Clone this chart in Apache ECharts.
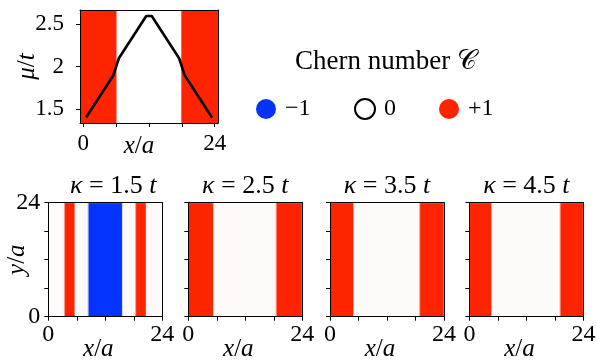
<!DOCTYPE html>
<html>
<head>
<meta charset="utf-8">
<script src="https://cdn.jsdelivr.net/npm/echarts@6/dist/echarts.min.js"></script>
<style>html,body{margin:0;padding:0;background:#fff}#c{width:597px;height:360px}</style>
</head>
<body>
<div id="c"></div>
<script>
// ---------- data ----------
const muX = [0.5, 5.5, 6.5, 11.5, 12.5, 17.5, 18.5, 23.5];
const muY = [1.4, 1.9, 2.1, 2.6, 2.6, 2.1, 1.9, 1.4];
const topEdges = [-0.6, 6.1, 17.9, 24.6];
const topChern = [1, 0, 1];
const topXRange = [-0.6, 24.6];
const topYRange = [1.335, 2.67];
const topXTicks = [0, 6, 12, 18, 24];
const topXLabels = [0, 24];
const topYTicks = [1.5, 2, 2.5];

const kappaLabels = ['1.5', '2.5', '3.5', '4.5'];
const panel1Edges = [0, 3.4, 5.6, 8.4, 15.6, 18.4, 20.6, 24];
const panel1Chern = [0, 1, 0, -1, 0, 1, 0];
const panel2Edges = [0, 5.3, 18.5, 24];
const panel2Chern = [1, 0, 1];
const panel3Edges = [0, 5.0, 18.9, 24];
const panel3Chern = [1, 0, 1];
const panel4Edges = [0, 4.7, 19.1, 24];
const panel4Chern = [1, 0, 1];
const panelRange = [0, 24];
const panelTicks = [0, 6, 12, 18, 24];
const panelLabels = [0, 24];
const legendNames = ['\u22121', '0', '+1'];
const legendValues = [-1, 0, 1];

// ---------- styles ----------
const FONT = "'Liberation Serif', 'DejaVu Serif', serif";
const RED = '#ff2400', BLUE = '#0433ff';
const colorTop = {'-1': BLUE, '0': '#ffffff', '1': RED};
const colorBot = {'-1': BLUE, '0': '#fffafa', '1': RED};
const strokeBot = {'-1': '#9aa8ff', '0': null, '1': '#ff9a88'};

const topGrid = {left: 80, top: 10, width: 138, height: 113};
const panelLefts = [48.3, 188.3, 330, 469.4];
const panelTop = 202.7, panelSize = 114;
const titleOffsets = [8, 0, 0, 0];

const panelEdges = [panel1Edges, panel2Edges, panel3Edges, panel4Edges];
const panelChern = [panel1Chern, panel2Chern, panel3Chern, panel4Chern];

function bands(edges, chern) {
  const d = [];
  for (let i = 0; i < chern.length; i++) d.push([edges[i], edges[i + 1], chern[i]]);
  return d;
}

function bandRender(colors, strokes) {
  return function (params, api) {
    const cs = params.coordSys;
    let x0 = api.coord([api.value(0), 0])[0];
    let x1 = api.coord([api.value(1), 0])[0];
    x0 = Math.max(x0, cs.x); x1 = Math.min(x1, cs.x + cs.width);
    const c = String(api.value(2));
    const st = strokes && strokes[c];
    return {
      type: 'rect',
      shape: {x: x0, y: cs.y, width: x1 - x0, height: cs.height},
      style: {fill: colors[c], stroke: st || null, lineWidth: st ? 1 : 0}
    };
  };
}

const blackLine = {show: true, onZero: false, lineStyle: {color: '#000', width: 1}};
const tick = {show: true, inside: false, length: 4, lineStyle: {color: '#000', width: 1}};
const rich = (size) => ({i: {fontStyle: 'italic', fontFamily: FONT, fontSize: size, color: '#000'},
                         n: {fontFamily: FONT, fontSize: size, color: '#000'}});

const grids = [Object.assign({outerBoundsMode: 'none', containLabel: false}, topGrid)];
panelLefts.forEach(l => grids.push({left: l, top: panelTop, width: panelSize, height: panelSize,
  outerBoundsMode: 'none', containLabel: false}));

const xAxes = [], yAxes = [];
// top plot main axes
xAxes.push({gridIndex: 0, type: 'value', min: topXRange[0], max: topXRange[1], z: 10,
  axisLine: blackLine, axisTick: Object.assign({}, tick, {customValues: topXTicks}),
  axisLabel: {customValues: topXLabels, margin: 9, fontSize: 23, fontFamily: FONT, color: '#000'},
  splitLine: {show: false},
  name: '{i|x}{n|/}{i|a}', nameLocation: 'middle', nameGap: 23, nameMoveOverlap: false,
  nameTextStyle: {rich: rich(25), padding: [0, 20, 0, 0], verticalAlign: 'middle'}});
yAxes.push({gridIndex: 0, type: 'value', min: topYRange[0], max: topYRange[1], z: 10,
  axisLine: blackLine, axisTick: Object.assign({}, tick, {customValues: topYTicks}),
  axisLabel: {customValues: topYTicks, margin: 16, fontSize: 23, fontFamily: FONT, color: '#000'},
  splitLine: {show: false},
  name: '{i|\u03bc}{n|/}{i|t}', nameLocation: 'middle', nameGap: 53, nameMoveOverlap: false,
  nameTextStyle: {rich: rich(25), verticalAlign: 'middle'}});
// bottom panels main axes
for (let k = 0; k < 4; k++) {
  xAxes.push({gridIndex: k + 1, type: 'value', min: panelRange[0], max: panelRange[1], z: 10,
    axisLine: blackLine, axisTick: Object.assign({}, tick, {customValues: panelTicks}),
    axisLabel: {customValues: panelLabels, margin: 6, fontSize: 24, fontFamily: FONT, color: '#000'},
    splitLine: {show: false},
    name: '{i|x}{n|/}{i|a}', nameLocation: 'middle', nameGap: 33, nameMoveOverlap: false,
    nameTextStyle: {rich: rich(25), padding: [0, 14, 0, 0], verticalAlign: 'middle'}});
  yAxes.push({gridIndex: k + 1, type: 'value', min: panelRange[0], max: panelRange[1], z: 10,
    axisLine: blackLine, axisTick: Object.assign({}, tick, {customValues: panelTicks}),
    axisLabel: {show: k === 0, customValues: panelLabels, margin: 8, fontSize: 24, fontFamily: FONT, color: '#000'},
    splitLine: {show: false},
    name: k === 0 ? '{i|y}{n|/}{i|a}' : '', nameLocation: 'middle', nameGap: 31, nameMoveOverlap: false,
    nameTextStyle: {rich: rich(25), verticalAlign: 'middle'}});
}
// frame axes (top & right)
for (let g = 0; g < 5; g++) {
  const xr = g === 0 ? topXRange : panelRange, yr = g === 0 ? topYRange : panelRange;
  xAxes.push({gridIndex: g, type: 'value', position: 'top', min: xr[0], max: xr[1], z: 10,
    axisLine: blackLine, axisTick: {show: false}, axisLabel: {show: false}, splitLine: {show: false}});
  yAxes.push({gridIndex: g, type: 'value', position: 'right', min: yr[0], max: yr[1], z: 10,
    axisLine: blackLine, axisTick: {show: false}, axisLabel: {show: false}, splitLine: {show: false}});
}

const series = [];
series.push({type: 'custom', xAxisIndex: 0, yAxisIndex: 0, clip: true, silent: true,
  renderItem: bandRender(colorTop, null), encode: {x: [0, 1]}, data: bands(topEdges, topChern), z: 1});
series.push({type: 'line', xAxisIndex: 0, yAxisIndex: 0, showSymbol: false, silent: true,
  data: muX.map((x, i) => [x, muY[i]]), lineStyle: {color: '#000', width: 2.6}, z: 5});
for (let k = 0; k < 4; k++) {
  series.push({type: 'custom', xAxisIndex: k + 1, yAxisIndex: k + 1, clip: true, silent: true,
    renderItem: bandRender(colorBot, strokeBot), encode: {x: [0, 1]},
    data: bands(panelEdges[k], panelChern[k]), z: 1});
}
// legend dummy series
legendNames.forEach((n, i) => {
  const v = String(legendValues[i]);
  series.push({type: 'scatter', name: n, xAxisIndex: 0, yAxisIndex: 0, data: [],
    itemStyle: v === '0' ? {color: '#ffffff', borderColor: '#000', borderWidth: 1.5, opacity: 1}
                         : {color: colorTop[v], opacity: 1}});
});

const legendLefts = [256, 354, 439];
const legends = legendNames.map((n, i) => ({
  data: [n], left: legendLefts[i], top: 97, padding: 0, icon: 'circle',
  itemWidth: 20, itemHeight: 20, selectedMode: false,
  itemStyle: {opacity: 1},
  textStyle: {fontSize: 24, fontFamily: FONT, color: '#000', padding: [0, 0, 0, 4]}
}));

const graphics = [{type: 'text', x: 386, y: 62, z: 20,
  style: {text: 'Chern number \u{1D49E}', font: '27px ' + FONT, fill: '#000',
          align: 'center', verticalAlign: 'middle', textAlign: 'center', textVerticalAlign: 'middle'}}];
kappaLabels.forEach((kl, k) => {
  graphics.push({type: 'text', x: panelLefts[k] + panelSize / 2 + titleOffsets[k], y: 186, z: 20,
    style: {text: '{i|\u03ba} {n|= ' + kl + '} {i|t}', rich: rich(26), font: '26px ' + FONT, fill: '#000',
            align: 'center', verticalAlign: 'middle', textAlign: 'center', textVerticalAlign: 'middle'}});
});

const chart = echarts.init(document.getElementById('c'), null, {renderer: 'canvas'});
chart.setOption({
  animation: false,
  backgroundColor: '#ffffff',
  grid: grids,
  xAxis: xAxes,
  yAxis: yAxes,
  legend: legends,
  graphic: graphics,
  series: series
});
</script>
</body>
</html>
